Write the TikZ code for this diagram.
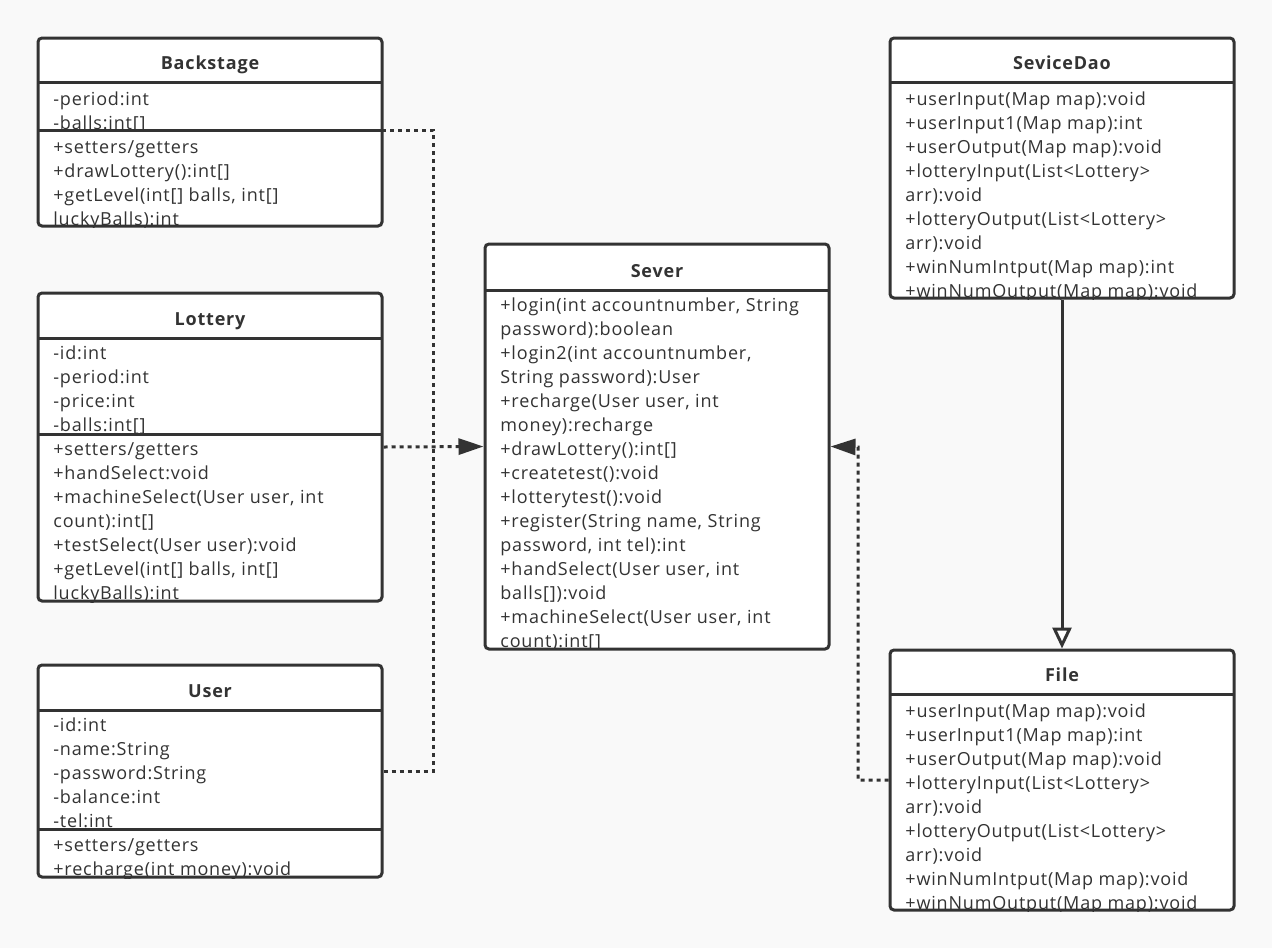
\documentclass[tikz,border=0pt]{standalone}
\usepackage{fontspec}
\setmainfont{Open Sans}[LetterSpace=4.5]
\usetikzlibrary{arrows.meta}
\definecolor{ink}{HTML}{333333}
\definecolor{paper}{HTML}{F9F9F9}
\begin{document}
\begin{tikzpicture}[x=0.5pt, y=-0.5pt,
    classbox/.style={draw=ink, line width=1.5pt, fill=white, rounded corners=2pt, inner sep=0pt},
    title/.style={anchor=base, inner sep=0pt, text=ink, font=\fontsize{9}{12}\selectfont\bfseries},
    members/.style={anchor=base west, align=left, inner sep=0pt, text=ink, font=\fontsize{9}{12}\selectfont},
    sepline/.style={draw=ink, line width=1.5pt},
    dep/.style={draw=ink, line width=1.5pt, dash pattern=on 2pt off 2pt},
    depend/.style={dep, -{Triangle[length=12.5pt, width=8pt]}},
    inherit/.style={draw=ink, line width=1.5pt, -{Triangle[open, length=10.5pt, width=9.5pt, fill=white]}}]
  \useasboundingbox[fill=paper] (0,0) rectangle (1272,948);

  % class boxes
  \node[classbox, minimum width=172pt, minimum height=94pt] (backstage) at (210,132) {};
  \node[classbox, minimum width=172pt, minimum height=154pt] (lottery) at (210,447) {};
  \node[classbox, minimum width=172pt, minimum height=106pt] (user) at (210,771) {};
  \node[classbox, minimum width=172pt, minimum height=202.5pt] (sever) at (657,446.5) {};
  \node[classbox, minimum width=172pt, minimum height=130pt] (sevicedao) at (1062,168) {};
  \node[classbox, minimum width=172pt, minimum height=130pt] (file) at (1062,780) {};

  % titles
  \node[title] (backstage-t) at (210,69) {Backstage};
  \node[title] (lottery-t) at (210,325) {Lottery};
  \node[title] (user-t) at (210,697) {User};
  \node[title] (sever-t) at (657,277) {Sever};
  \node[title] (sevicedao-t) at (1062,69) {SeviceDao};
  \node[title] (file-t) at (1062,681) {File};

  % members (anchored on the last line)
  \begin{scope}
    \clip (backstage.south west) rectangle (backstage.north east);
    \node[members] (backstage-m) at (53,225) {-period:int\\-balls:int[]\\+setters/getters\\+drawLottery():int[]\\+getLevel(int[] balls, int[]\\luckyBalls):int};
  \end{scope}
  \begin{scope}
    \clip (lottery.south west) rectangle (lottery.north east);
    \node[members] (lottery-m) at (53,599) {-id:int\\-period:int\\-price:int\\-balls:int[]\\+setters/getters\\+handSelect:void\\+machineSelect(User user, int\\count):int[]\\+testSelect(User user):void\\+getLevel(int[] balls, int[]\\luckyBalls):int};
  \end{scope}
  \begin{scope}
    \clip (user.south west) rectangle (user.north east);
    \node[members] (user-m) at (53,875) {-id:int\\-name:String\\-password:String\\-balance:int\\-tel:int\\+setters/getters\\+recharge(int money):void};
  \end{scope}
  \begin{scope}
    \clip (sever.south west) rectangle (sever.north east);
    \node[members] (sever-m) at (500,647) {+login(int accountnumber, String\\password):boolean\\+login2(int accountnumber,\\String password):User\\+recharge(User user, int\\money):recharge\\+drawLottery():int[]\\+createtest():void\\+lotterytest():void\\+register(String name, String\\password, int tel):int\\+handSelect(User user, int\\balls[]):void\\+machineSelect(User user, int\\count):int[]};
  \end{scope}
  \begin{scope}
    \clip (sevicedao.south west) rectangle (sevicedao.north east);
    \node[members] (sevicedao-m) at (905,297) {+userInput(Map map):void\\+userInput1(Map map):int\\+userOutput(Map map):void\\+lotteryInput(List<Lottery>\\arr):void\\+lotteryOutput(List<Lottery>\\arr):void\\+winNumIntput(Map map):int\\+winNumOutput(Map map):void};
  \end{scope}
  \begin{scope}
    \clip (file.south west) rectangle (file.north east);
    \node[members] (file-m) at (905,909) {+userInput(Map map):void\\+userInput1(Map map):int\\+userOutput(Map map):void\\+lotteryInput(List<Lottery>\\arr):void\\+lotteryOutput(List<Lottery>\\arr):void\\+winNumIntput(Map map):void\\+winNumOutput(Map map):void};
  \end{scope}

  % compartment lines
  \draw[sepline] (38,82) -- (382,82);
  \draw[sepline] (38,130) -- (382,130);
  \draw[sepline] (38,338) -- (382,338);
  \draw[sepline] (38,434) -- (382,434);
  \draw[sepline] (38,710) -- (382,710);
  \draw[sepline] (38,829) -- (382,829);
  \draw[sepline] (485,290) -- (829,290);
  \draw[sepline] (890,82) -- (1234,82);
  \draw[sepline] (890,694) -- (1234,694);

  % connectors
  \coordinate (backstage-port) at (382,130);
  \coordinate (bus) at (433,447);
  \coordinate (file-bend) at (858,447);
  \draw[dep] (backstage-port) -| (bus);
  \draw[dep] (user.east) -| (bus);
  \draw[depend] (lottery.east) -- (sever.west);
  \draw[depend] (file.west) -| (file-bend) -- (sever.east);
  \draw[inherit] (sevicedao.south) -- (file.north);
\end{tikzpicture}
\end{document}
